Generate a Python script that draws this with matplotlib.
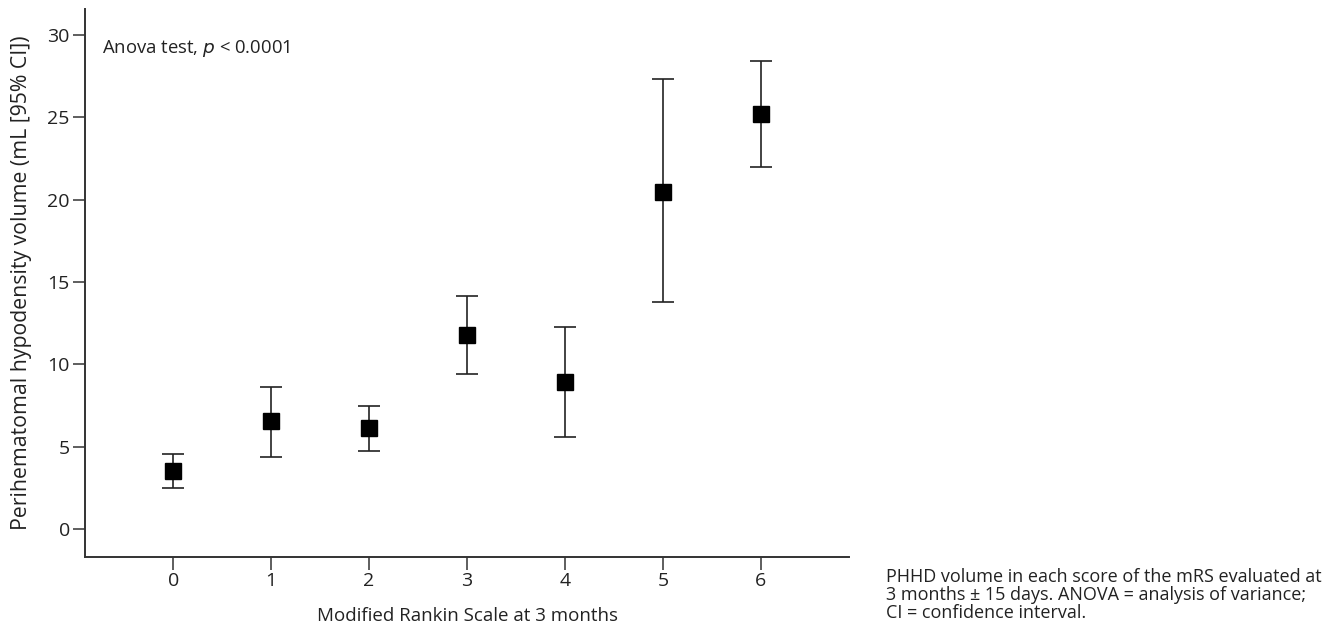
import matplotlib
matplotlib.use("Agg")
import matplotlib.pyplot as plt

# mRS score at 3 months vs PHHD volume (mean, 95% CI)
mrs_scores = [0, 1, 2, 3, 4, 5, 6]
phhd_mean = [3.52, 6.56, 6.15, 11.76, 8.95, 20.48, 25.22]
ci_lower = [2.51, 4.39, 4.75, 9.41, 5.57, 13.76, 22.0]
ci_upper = [4.54, 8.62, 7.49, 14.17, 12.25, 27.3, 28.42]
y_ticks = [0, 5, 10, 15, 20, 25, 30]

caption = ("PHHD volume in each score of the mRS evaluated at\n"
           "3 months \u00b1 15 days. ANOVA = analysis of variance;\n"
           "CI = confidence interval.")

plt.rcParams["font.family"] = ["Open Sans", "DejaVu Sans"]

fig = plt.figure(figsize=(13.37, 6.28), dpi=100)
ax = fig.add_axes([0.0636, 0.1135, 0.5714, 0.8717])

err = [[m - lo for m, lo in zip(phhd_mean, ci_lower)],
       [hi - m for m, hi in zip(phhd_mean, ci_upper)]]
ax.errorbar(mrs_scores, phhd_mean, yerr=err, fmt="s", color="black",
            markersize=12, ecolor="#222222", elinewidth=1.2, capsize=8,
            capthick=1.2, zorder=3)

ax.set_xlim(-0.9, 6.9)
ax.set_ylim(-1.68, 31.56)
ax.set_xticks(mrs_scores)
ax.set_yticks(y_ticks)
for side in ("top", "right"):
    ax.spines[side].set_visible(False)
for side in ("left", "bottom"):
    ax.spines[side].set_linewidth(1.4)
    ax.spines[side].set_color("#333333")
ax.tick_params(direction="out", length=9, width=1.1, color="#333333",
               labelsize=14, labelcolor="#222222", pad=2)

ax.set_xlabel("Modified Rankin Scale at 3 months", fontsize=13.5, color="#222222", labelpad=12)
ax.set_ylabel("Perihematomal hypodensity volume (mL [95% CI])", fontsize=15.3,
              color="#222222")
ax.yaxis.set_label_coords(-0.0693, 0.5)
ax.text(0.022, 0.929, "Anova test, $\\it{p}$ < 0.0001", transform=ax.transAxes,
        fontsize=13.3, va="center", ha="left", color="#222222")

fig.text(0.663, 0.095, caption, fontsize=13, va="top", ha="left",
         color="#222222", linespacing=1.0)

fig.savefig("out.png", dpi=100)
